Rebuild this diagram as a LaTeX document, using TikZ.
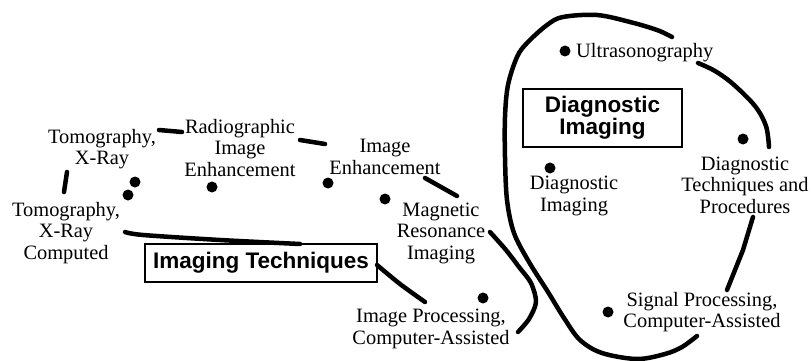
\documentclass[tikz,border=0pt]{standalone}
\usepackage{fontspec}
\setmainfont{Liberation Serif}
\newfontfamily\headsans{Liberation Sans}
\begin{document}
\begin{tikzpicture}[x=1pt,y=-1pt,
  lbl/.style={align=center,inner sep=0pt,font=\fontsize{20.4}{21.5}\selectfont},
  headbox/.style={draw,line width=2pt,inner sep=0pt,align=center,font=\headsans\bfseries\fontsize{22.5}{22}\selectfont},
  blob/.style={circle,fill,inner sep=0pt,minimum size=11pt},
  outline/.style={line width=4.5pt,line cap=round,line join=round}]
\useasboundingbox (0,0) rectangle (812,361);
% labels
\node[lbl] (t1) at (102,149) {Tomography,\\X-Ray};
\node[lbl] (t2) at (66,233) {Tomography,\\X-Ray\\Computed};
\node[lbl] (rie) at (240,148) {Radiographic\\Image\\Enhancement};
\node[lbl] (ie) at (385,157) {Image\\Enhancement};
\node[lbl] (mri) at (441,233) {Magnetic\\Resonance\\Imaging};
\node[lbl] (ip) at (431,329) {Image Processing,\\Computer-Assisted};
\node[lbl,anchor=west] (us) at (576,53) {Ultrasonography};
\node[lbl] (di) at (574,196) {Diagnostic\\Imaging};
\node[lbl] (dtp) at (745,185) {Diagnostic\\Techniques and\\Procedures};
\node[lbl] (sp) at (702,312) {Signal Processing,\\Computer-Assisted};
% header boxes
\node[headbox,minimum width=232pt,minimum height=38pt] (itbox) at (261,263) {Imaging Techniques};
\node[headbox,minimum width=159pt,minimum height=58pt] (dibox) at (602.5,118) {Diagnostic\\Imaging};
% dots
\node[blob] (d1) at (135,182) {};
\node[blob] (d2) at (128,195) {};
\node[blob] (d3) at (212,187) {};
\node[blob] (d4) at (328,183) {};
\node[blob] (d5) at (385,199) {};
\node[blob] (d6) at (483,298) {};
\node[blob] (dus) at (565,51) {};
\node[blob] (ddtp) at (743,139) {};
\node[blob] (ddi) at (550,168) {};
\node[blob] (dsp) at (608,312) {};
% left outline pieces
\draw[outline] (67,172) -- (64,192);
\draw[outline] (159,130) -- (182,132);
\draw[outline] (300,140) -- (325,144);
\draw[outline] (425,178) -- (457,196);
\draw[outline] plot[smooth,tension=0.5] coordinates {(490,232) (506,250) (519,267) (531,283) (536,302) (529,319) (518,332)};
\draw[outline] plot[smooth,tension=0.5] coordinates {(125,232) (143,235) (220,240) (300,244)};
\draw[outline] plot[smooth,tension=0.5] coordinates {(377,265) (400,284) (425,302)};
% right loop
\draw[outline] plot[smooth,tension=0.55] coordinates {(672,37) (657,30) (630,22) (597,15) (563,17) (547,25) (527,43) (517,57) (508,85) (505,117) (505,157) (507,200) (514,233) (529,262) (548,292) (564,318) (580,340) (602,353) (637,359) (665,354) (682,347) (697,336)};
\draw[outline] plot[smooth,tension=0.55] coordinates {(698,63) (715,71) (733,84) (755,106) (766,126) (769,147)};
\draw[outline] (753,217) -- (743,250) -- (727,290);
\end{tikzpicture}
\end{document}
